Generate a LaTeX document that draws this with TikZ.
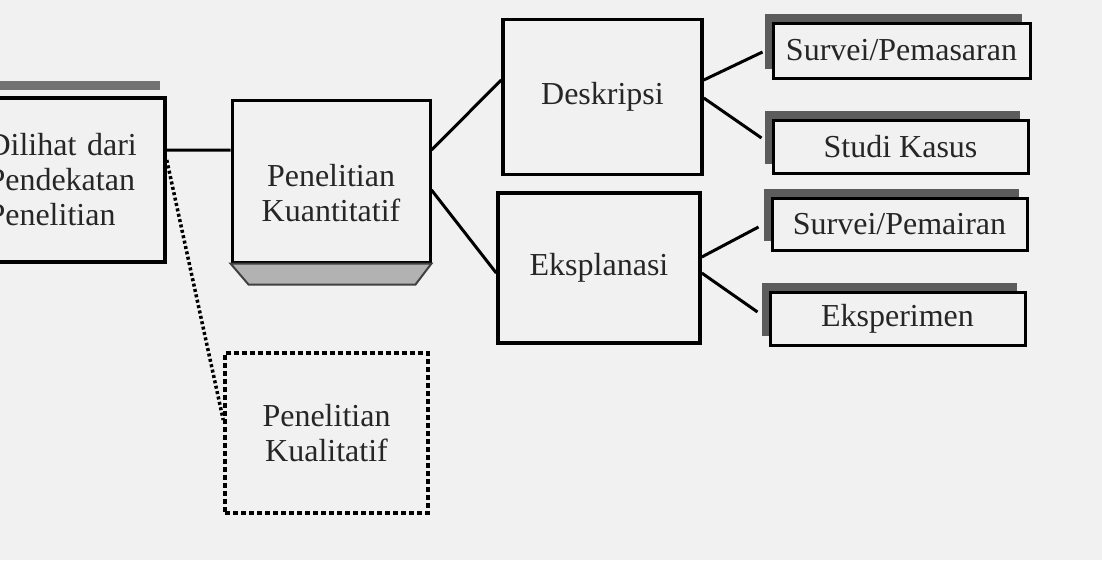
\documentclass[tikz,border=0pt]{standalone}
\usepackage{fontspec}
\setmainfont{Liberation Serif}
\usepackage{tikz}
\usetikzlibrary{positioning, shadows}
\definecolor{paper}{RGB}{241,241,241}
\tikzset {
    every node/.style={font=\fontsize{32}{35}\selectfont, text=black!85},
    box/.style={draw, line width=3.5pt, fill=paper, align=center, inner sep=0pt},
    shbox/.style={box, line width=3pt,
        drop shadow={shadow xshift=-8pt, shadow yshift=9pt, fill=black!70, opacity=0.9}},
    dotbox/.style={box, line width=3.5pt, dash pattern=on 5pt off 3pt},
    link/.style={line width=3pt}
}

\begin{document}
\begin{tikzpicture}[x=1pt, y=-1pt]
    \fill[paper] (0,0) rectangle (1102,560);
    \clip (0,0) rectangle (1102,560);

    % left part
    \node[box, minimum width=205pt, minimum height=164pt, text width=150pt, align=left] (dil) at (62.5,180) {Dilihat dari\\Pendekatan\\Penelitian};
    \fill[black!55] ([yshift=6pt]dil.north west) rectangle ([xshift=-7pt,yshift=15pt]dil.north east);

    \node[box, line width=3pt, minimum width=198pt, minimum height=162pt] (kuan) at (331,181) {\rule{0pt}{46pt}Penelitian\\Kuantitatif};
    \filldraw[black!30, draw=black!75, line width=2pt] (kuan.south west) -- (kuan.south east) -- ++(-16,21) -- ++(-167,0) -- cycle;

    \node[dotbox, minimum width=203pt, minimum height=160pt] (kual) at (326.5,433) {Penelitian\\Kualitatif};

    % middle
    \node[box, minimum width=199pt, minimum height=155pt] (desk) at (602.5,97) {Deskripsi};
    \node[box, minimum width=202pt, minimum height=150pt] (eks) at (599,268) {Eksplanasi};

    % right
    \node[shbox, minimum width=257pt, minimum height=55pt] (sp) at (901.5,50.5) {Survei/Pemasaran};
    \node[shbox, minimum width=255pt, minimum height=53pt] (sk) at (900.5,146.5) {Studi Kasus};
    \node[shbox, minimum width=255pt, minimum height=52pt] (spm) at (899.5,224) {Survei/Pemairan};
    \node[shbox, minimum width=255pt, minimum height=53pt] (ek) at (897.5,318.5) {Eksperimen};

    \draw[link]
    ([yshift=30pt]dil.east) -- ([yshift=30pt]dil.east -| kuan.west)
    ([yshift=31pt]kuan.east) -- ([yshift=17pt]desk.west)
    ([yshift=-9pt]kuan.east) -- ([yshift=-5pt]eks.west)
    ([yshift=17pt]desk.east) -- ([xshift=-9pt,yshift=-1.5pt]sp.west)
    ([yshift=-1pt]desk.east) -- ([xshift=-10pt,yshift=8.5pt]sk.west)
    ([yshift=11pt]eks.east) -- ([xshift=-12pt,yshift=-3pt]spm.west)
    ([yshift=-5pt]eks.east) -- ([xshift=-11pt,yshift=6.5pt]ek.west);
    \draw[link, line width=3.5pt, dash pattern=on 3pt off 2.5pt] ([yshift=20pt]dil.east) -- ([yshift=13pt]kual.west);

\end{tikzpicture}
\end{document}
